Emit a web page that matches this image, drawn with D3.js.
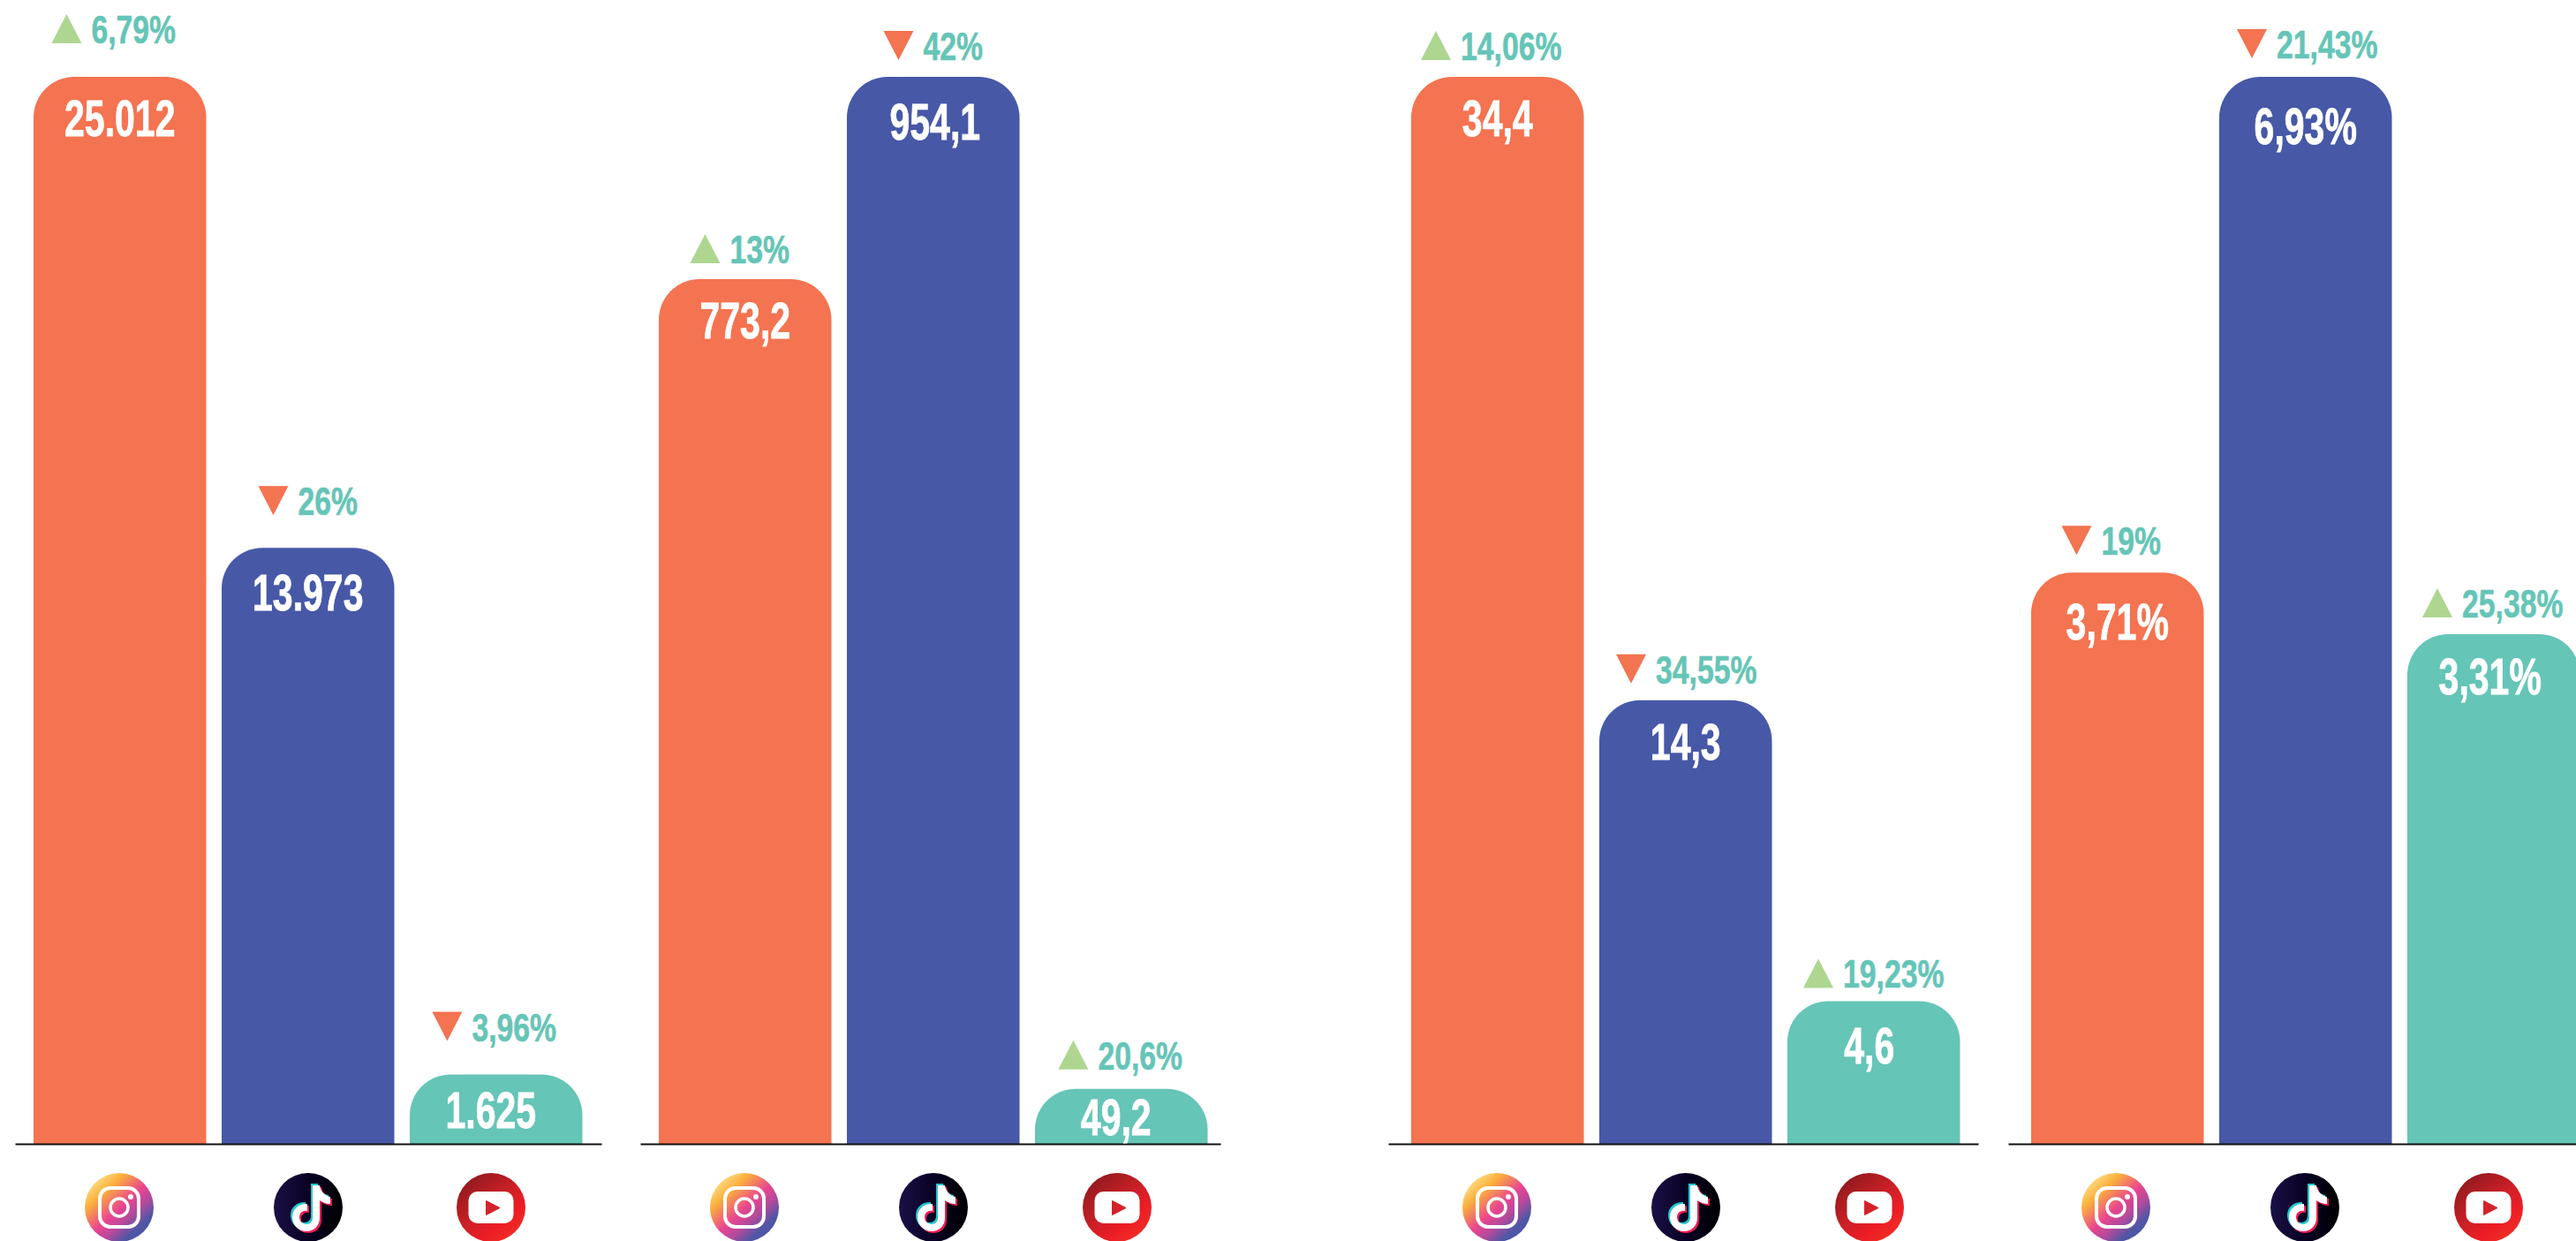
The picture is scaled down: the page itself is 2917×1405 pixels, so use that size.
<!DOCTYPE html>
<html><head><meta charset="utf-8">
<script src="https://cdn.jsdelivr.net/npm/d3@7"></script>
<style>html,body{margin:0;padding:0;background:#fff;overflow:hidden}svg{display:block}</style>
</head><body><svg id="c" width="2917" height="1405"></svg>
<script>
// ---- data ----
const platforms = ["Instagram", "TikTok", "YouTube"];
const panel1Values = [25012, 13973, 1625];
const panel2Values = [773.2, 954.1, 49.2];
const panel3Values = [34.4, 14.3, 4.6];
const panel4Values = [3.71, 6.93, 3.31];
const panel1Labels = ["25.012", "13.973", "1.625"];
const panel2Labels = ["773,2", "954,1", "49,2"];
const panel3Labels = ["34,4", "14,3", "4,6"];
const panel4Labels = ["3,71%", "6,93%", "3,31%"];
const panel1Changes = ["6,79%", "26%", "3,96%"];
const panel2Changes = ["13%", "42%", "20,6%"];
const panel3Changes = ["14,06%", "34,55%", "19,23%"];
const panel4Changes = ["19%", "21,43%", "25,38%"];
const panel1Trend = ["up", "down", "down"];
const panel2Trend = ["up", "down", "up"];
const panel3Trend = ["up", "down", "up"];
const panel4Trend = ["down", "down", "up"];

// ---- layout ----
const W = 2917, H = 1405, baseY = 1295, topY = 87, barW = 195.5, barStep = 213, radius = 46;
const panels = [
  {values: panel1Values, labels: panel1Labels, changes: panel1Changes, trend: panel1Trend, left: 38,   axis: [17, 681],    changeGap: [38, 37, 38], changeDx: [-7, 0, -2],  labelGap: [67, 71, 60], labelDx: [0, 0, -6],  iconX: [135, 349, 556]},
  {values: panel2Values, labels: panel2Labels, changes: panel2Changes, trend: panel2Trend, left: 746,  axis: [725, 1382],  changeGap: [18, 19, 22], changeDx: [-6, 0, -1],  labelGap: [67, 71, 52], labelDx: [0, 2, -6],  iconX: [843, 1057, 1265]},
  {values: panel3Values, labels: panel3Labels, changes: panel3Changes, trend: panel3Trend, left: 1598, axis: [1572, 2240], changeGap: [19, 19, 15], changeDx: [-7, 1, 0],   labelGap: [67, 67, 71], labelDx: [0, 0, -5],  iconX: [1695, 1909, 2117]},
  {values: panel4Values, labels: panel4Labels, changes: panel4Changes, trend: panel4Trend, left: 2300, axis: [2274, 2917], changeGap: [20, 21, 19], changeDx: [-7, 2, -1],  labelGap: [76, 76, 68], labelDx: [0, 0, -4],  iconX: [2396, 2610, 2818]}
];
const barColors = d3.scaleOrdinal(platforms, ["#f47350", "#4758a7", "#65c5b7"]);
const FONT = "'Liberation Sans',sans-serif";
const teal = "#65c5b7", green = "#aed691", orange = "#f47350";

const svg = d3.select("#c");
const defs = svg.append("defs");
function grad(id, x1, y1, x2, y2, stops) {
  const g = defs.append("linearGradient").attr("id", id).attr("x1", x1).attr("y1", y1).attr("x2", x2).attr("y2", y2);
  stops.forEach(([o, c]) => g.append("stop").attr("offset", o).attr("stop-color", c));
}
grad("ig", 0.12, 0.1, 0.85, 0.9, [[0, "#fee08a"], [0.22, "#fbb03b"], [0.52, "#e9458f"], [0.7, "#b24a9c"], [0.88, "#4f56a5"], [1, "#4a58a7"]]);
grad("tt", 0, 0.5, 1, 0.5, [[0, "#1c1046"], [0.55, "#060020"], [1, "#000000"]]);
grad("yt", 0.1, 0.1, 0.75, 0.9, [[0, "#8f1a1e"], [0.55, "#cf2027"], [0.8, "#ed1c24"], [1, "#ee2a26"]]);

function topRounded(x, y, w, h, r) {
  const p = d3.path();
  p.moveTo(x, y + h);
  p.lineTo(x, y + r);
  p.arcTo(x, y, x + r, y, r);
  p.lineTo(x + w - r, y);
  p.arcTo(x + w, y, x + w, y + r, r);
  p.lineTo(x + w, y + h);
  p.closePath();
  return p.toString();
}
const NOTE = "M5,-25 L13,-25 C14,-18 19,-13 25,-12 L25,-4 C20,-4 16,-6 13,-8 L13,12 C13,21 6,27 -2,27 C-11,27 -18,20 -18,11 C-18,2 -11,-4 -2,-4 L-1,-4 L-1,4 C-6,3 -10,6 -10,11 C-10,16 -6,19 -2,19 C2,19 5,16 5,12 Z";
function drawIcon(g, name) {
  if (name === "Instagram") {
    g.append("circle").attr("r", 39).attr("fill", "url(#ig)");
    g.append("rect").attr("x", -22).attr("y", -22).attr("width", 44).attr("height", 44).attr("rx", 12).attr("fill", "none").attr("stroke", "#fff").attr("stroke-width", 4);
    g.append("circle").attr("r", 10).attr("fill", "none").attr("stroke", "#fff").attr("stroke-width", 3.5);
    g.append("circle").attr("cx", 13).attr("cy", -12).attr("r", 3).attr("fill", "#fff");
  } else if (name === "TikTok") {
    g.append("circle").attr("r", 39).attr("fill", "url(#tt)");
    g.append("path").attr("d", NOTE).attr("fill", "#26c6d0").attr("transform", "translate(-2,-2)");
    g.append("path").attr("d", NOTE).attr("fill", "#ee1d52").attr("transform", "translate(2,2)");
    g.append("path").attr("d", NOTE).attr("fill", "#fff");
  } else {
    g.append("circle").attr("r", 39).attr("fill", "url(#yt)");
    g.append("rect").attr("x", -25.5).attr("y", -18).attr("width", 51).attr("height", 36).attr("rx", 10).attr("fill", "#fff");
    g.append("path").attr("d", d3.line()([[-5.5, -7.5], [10, 0.5], [-5.5, 8.5]]) + "Z").attr("fill", "#d2232a").attr("stroke", "#d2232a").attr("stroke-width", 1).attr("stroke-linejoin", "round");
  }
}

panels.forEach(p => {
  const x = d3.scaleBand().domain(platforms).range([p.left, p.left + 3 * barW + 2 * (barStep - barW)]).paddingInner((barStep - barW) / barStep);
  const y = d3.scaleLinear().domain([0, d3.max(p.values)]).range([baseY, topY]);
  const rows = platforms.map((name, i) => ({name, i, v: p.values[i], label: p.labels[i], change: p.changes[i], trend: p.trend[i]}));
  const g = svg.append("g");

  g.selectAll("path.bar").data(rows).join("path").attr("class", "bar")
    .attr("d", d => topRounded(x(d.name), y(d.v), x.bandwidth(), baseY - y(d.v), radius))
    .attr("fill", d => barColors(d.name));

  const ax = g.append("g").attr("transform", `translate(0,${baseY})`)
    .call(d3.axisBottom(d3.scaleLinear().range(p.axis)).tickValues([]).tickSizeOuter(0));
  ax.select(".domain").attr("stroke", "#111").attr("stroke-width", 2);

  g.selectAll("text.val").data(rows).join("text").attr("class", "val")
    .attr("transform", d => `translate(${x(d.name) + x.bandwidth() / 2 + p.labelDx[d.i]},${y(d.v) + p.labelGap[d.i]}) scale(0.72,1)`)
    .attr("text-anchor", "middle").attr("font-family", FONT).attr("font-weight", 700)
    .attr("font-size", 57).attr("fill", "#fff").attr("stroke", "#fff").attr("stroke-width", 0.8).text(d => d.label);

  rows.forEach(d => {
    const base = y(d.v) - p.changeGap[d.i];
    const cg = g.append("g");
    const t = cg.append("text").attr("font-family", FONT).attr("font-weight", 700).attr("font-size", 45).attr("fill", teal).attr("stroke", teal).attr("stroke-width", 0.6).text(d.change);
    const k = 0.75, tw = t.node().getComputedTextLength() * k, triW = 34, gap = 11;
    const cx = x(d.name) + x.bandwidth() / 2 + p.changeDx[d.i];
    const start = cx - (triW + gap + tw) / 2;
    t.attr("transform", `translate(${start + triW + gap},${base}) scale(${k},1)`);
    const pts = d.trend === "up"
      ? [[start, base], [start + triW, base], [start + triW / 2, base - 33]]
      : [[start, base - 33], [start + triW, base - 33], [start + triW / 2, base]];
    cg.append("path").attr("d", d3.line()(pts) + "Z").attr("fill", d.trend === "up" ? green : orange);
  });

  rows.forEach(d => {
    const ig = g.append("g").attr("transform", `translate(${p.iconX[d.i]},1367)`);
    drawIcon(ig, d.name);
  });
});
</script></body></html>
